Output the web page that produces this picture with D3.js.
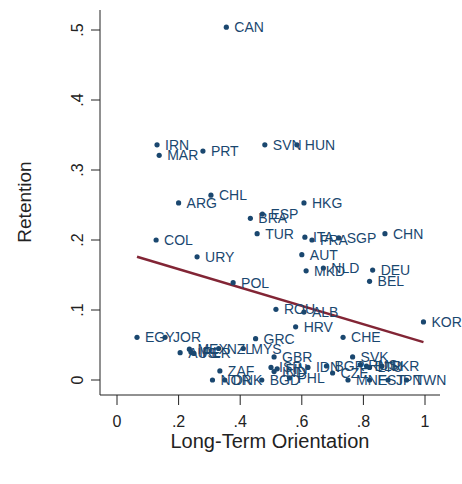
<!DOCTYPE html>
<html><head><meta charset="utf-8">
<script src="https://cdn.jsdelivr.net/npm/d3@7/dist/d3.min.js"></script>
<style>body{margin:0;background:#fff}svg{display:block}text{font-family:"Liberation Sans",Arial,sans-serif}</style>
</head><body>
<script>
const countries = ["CAN","IRN","MAR","PRT","SVN","HUN","CHL","ARG","HKG","ESP","BRA","TUR","COL","ITA","FRA","SGP","CHN","AUT","MKD","NLD","DEU","BEL","URY","POL","ROU","ALB","HRV","KOR","CHE","GRC","EGY","JOR","AUS","IRL","MEX","PER","NZL","MYS","ZAF","NOR","DNK","BGD","PHL","GBR","ISR","IND","FIN","IDN","BGR","CZE","SVK","RUS","BLR","LTU","UKR","MNE","EST","JPN","TWN"];
const lto = [0.355,0.13,0.137,0.279,0.48,0.584,0.305,0.20,0.607,0.472,0.433,0.455,0.127,0.61,0.633,0.72,0.87,0.60,0.614,0.67,0.83,0.82,0.26,0.377,0.516,0.607,0.58,0.995,0.734,0.45,0.065,0.156,0.205,0.24,0.235,0.25,0.33,0.41,0.334,0.31,0.35,0.47,0.56,0.51,0.50,0.51,0.52,0.62,0.68,0.70,0.765,0.79,0.81,0.82,0.86,0.75,0.82,0.88,0.94];
const retention = [0.504,0.336,0.321,0.327,0.336,0.336,0.264,0.253,0.253,0.237,0.231,0.209,0.200,0.204,0.200,0.203,0.209,0.179,0.156,0.160,0.157,0.141,0.176,0.139,0.101,0.097,0.076,0.083,0.061,0.059,0.061,0.061,0.039,0.040,0.044,0.038,0.045,0.045,0.013,0.000,0.000,0.000,0.003,0.033,0.018,0.012,0.016,0.018,0.020,0.010,0.033,0.022,0.020,0.018,0.020,0.000,0.000,0.000,0.000];
const xTicks = [0,0.2,0.4,0.6,0.8,1];
const yTicks = [0,0.1,0.2,0.3,0.4,0.5];
const fitIntercept = 0.1845, fitSlope = -0.131;

const W=462,H=484;
const svg=d3.select("body").append("svg").attr("width",W).attr("height",H);
const x=d3.scaleLinear().domain([0,1]).range([117,425]);
const y=d3.scaleLinear().domain([0,0.5]).range([380,30]);
const pL=100,pR=440,pT=10,pB=395;
const navy="#1a476f";
const fmt=v=>v===0?"0":(v===1?"1":d3.format(".1f")(v).replace(/^0/,""));

svg.append("line").attr("x1",pL).attr("x2",pL).attr("y1",pT).attr("y2",pB).attr("stroke","#222").attr("stroke-width",1);
svg.append("line").attr("x1",pL).attr("x2",pR).attr("y1",pB).attr("y2",pB).attr("stroke","#222").attr("stroke-width",1);
yTicks.forEach(t=>{
  svg.append("line").attr("x1",pL-9).attr("x2",pL).attr("y1",y(t)).attr("y2",y(t)).attr("stroke","#222");
  svg.append("text").attr("transform",`translate(${77},${y(t)}) rotate(-90)`).attr("text-anchor","middle").attr("dominant-baseline","central").attr("font-size",16).attr("fill","#222").text(fmt(t));
});
xTicks.forEach(t=>{
  svg.append("line").attr("x1",x(t)).attr("x2",x(t)).attr("y1",pB).attr("y2",pB+10).attr("stroke","#222");
  svg.append("text").attr("x",x(t)).attr("y",427).attr("text-anchor","middle").attr("font-size",16).attr("fill","#222").text(fmt(t));
});
svg.append("text").attr("transform",`translate(24,${202}) rotate(-90)`).attr("text-anchor","middle").attr("dominant-baseline","central").attr("font-size",19).attr("fill","#222").text("Retention");
svg.append("text").attr("x",270).attr("y",448).attr("text-anchor","middle").attr("font-size",20).attr("fill","#222").text("Long-Term Orientation");

const data=countries.map((c,i)=>({c,v:lto[i],r:retention[i]}));
const xr=d3.extent(data,d=>d.v);
svg.append("line").attr("x1",x(xr[0])).attr("y1",y(fitIntercept+fitSlope*xr[0])).attr("x2",x(xr[1])).attr("y2",y(fitIntercept+fitSlope*xr[1])).attr("stroke","#822535").attr("stroke-width",2.5);
svg.append("g").selectAll("circle").data(data).join("circle").attr("cx",d=>x(d.v)).attr("cy",d=>y(d.r)).attr("r",2.6).attr("fill",navy);
svg.append("g").selectAll("text").data(data).join("text").attr("x",d=>x(d.v)+8).attr("y",d=>y(d.r)).attr("dominant-baseline","central").attr("font-size",14).attr("fill",navy).text(d=>d.c);
</script>
</body></html>
